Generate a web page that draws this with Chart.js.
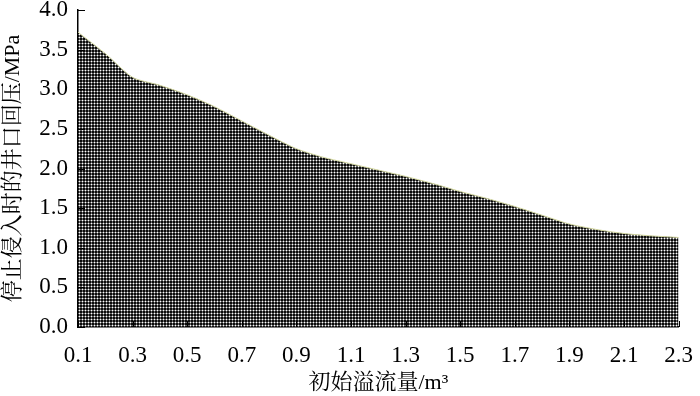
<!DOCTYPE html>
<html>
<head>
<meta charset="utf-8">
<script src="https://cdn.jsdelivr.net/npm/chart.js@4.4.1/dist/chart.umd.min.js"></script>
<style>
  body { margin: 0; background: #fff; }
  #wrap { width: 700px; height: 396px; }
</style>
</head>
<body>
<div id="wrap"><canvas id="area1"></canvas></div>
<script>
// initial overflow (m3) vs wellhead back pressure when influx stops (MPa)
var flowX = [0.1, 0.2, 0.3, 0.4, 0.5, 0.6, 0.7, 0.8, 0.9, 1.0, 1.1, 1.2,
             1.3, 1.4, 1.5, 1.6, 1.7, 1.8, 1.9, 2.0, 2.1, 2.2, 2.3];
var pressY = [3.72, 3.45, 3.15, 3.05, 2.93, 2.78, 2.60, 2.42, 2.25, 2.14, 2.06, 1.98,
              1.90, 1.81, 1.71, 1.62, 1.52, 1.41, 1.30, 1.23, 1.18, 1.15, 1.13];
var xTicks = [0.1, 0.3, 0.5, 0.7, 0.9, 1.1, 1.3, 1.5, 1.7, 1.9, 2.1, 2.3];
var yTicks = [0, 0.5, 1.0, 1.5, 2.0, 2.5, 3.0, 3.5, 4.0];

var fontFam = '"Liberation Serif", "Noto Serif CJK SC", "Noto Sans CJK SC", serif';

// dotted black fill like the print
function makePattern() {
  var c = document.createElement('canvas');
  c.width = 3; c.height = 3;
  var g = c.getContext('2d');
  g.fillStyle = '#0c0c0c';
  g.fillRect(0, 0, 3, 3);
  g.fillStyle = '#6a6a6a';
  g.fillRect(0, 1, 3, 1);
  g.fillRect(1, 0, 1, 3);
  g.fillStyle = '#ffffff';
  g.fillRect(1, 1, 1, 1);
  return g.createPattern(c, 'repeat');
}

var pts = [];
for (var i in flowX) {
  pts.push({x: flowX[i], y: pressY[i]});
}

// small inward tick marks
var inTicks = {
  id: 'inTicks',
  afterDraw: function(chart) {
    var ctx = chart.ctx, xs = chart.scales.x, ys = chart.scales.y;
    ctx.save();
    ctx.strokeStyle = '#000';
    ctx.lineWidth = 1;
    ctx.beginPath();
    yTicks.forEach(function(v) {
      var py = Math.round(ys.getPixelForValue(v)) + 0.5;
      ctx.moveTo(xs.left, py); ctx.lineTo(xs.left + 7, py);
    });
    xTicks.forEach(function(v) {
      var px = Math.round(xs.getPixelForValue(v)) + 0.5;
      ctx.moveTo(px, ys.bottom); ctx.lineTo(px, ys.bottom - 6);
    });
    ctx.stroke();
    ctx.restore();
  }
};

var ctx = document.getElementById('area1');
var areaChart = new Chart(ctx, {
  type: 'line',
  data: {
    datasets: [{
      data: pts,
      borderColor: '#d4d8a0',
      borderWidth: 1,
      backgroundColor: makePattern(),
      fill: 'origin',
      pointRadius: 0,
      tension: 0.25
    }]
  },
  options: {
    responsive: true,
    maintainAspectRatio: false,
    animation: false,
    layout: { padding: { top: 10, right: 9, left: 0, bottom: 0 } },
    plugins: { legend: { display: false }, tooltip: { enabled: false } },
    scales: {
      x: {
        type: 'linear',
        min: 0.1,
        max: 2.3,
        afterBuildTicks: function(s) { s.ticks = xTicks.map(function(v) { return {value: v}; }); },
        afterFit: function(s) { s.height = 69; },
        grid: { display: false },
        border: { display: true, color: '#000', width: 1.5 },
        ticks: {
          color: '#000',
          padding: 7,
          maxRotation: 0,
          font: { family: fontFam, size: 23 },
          callback: function(v) { return v.toFixed(1); }
        },
        title: {
          display: true,
          text: '初始溢流量/m³',
          color: '#000',
          padding: { top: 0, bottom: 0 },
          font: { family: fontFam, size: 22 }
        }
      },
      y: {
        min: 0,
        max: 4,
        afterBuildTicks: function(s) { s.ticks = yTicks.map(function(v) { return {value: v}; }); },
        afterFit: function(s) { s.width = 78; s.paddingTop = 0; s.paddingBottom = 0; },
        grid: { display: false },
        border: { display: true, color: '#000', width: 1.5 },
        ticks: {
          color: '#000',
          padding: 2,
          font: { family: fontFam, size: 23 },
          callback: function(v) { return v.toFixed(1); }
        },
        title: {
          display: true,
          text: '停止侵入时的井口回压/MPa',
          color: '#000',
          padding: { top: 0, bottom: 0 },
          font: { family: fontFam, size: 22 }
        }
      }
    }
  },
  plugins: [inTicks]
});
</script>
</body>
</html>
